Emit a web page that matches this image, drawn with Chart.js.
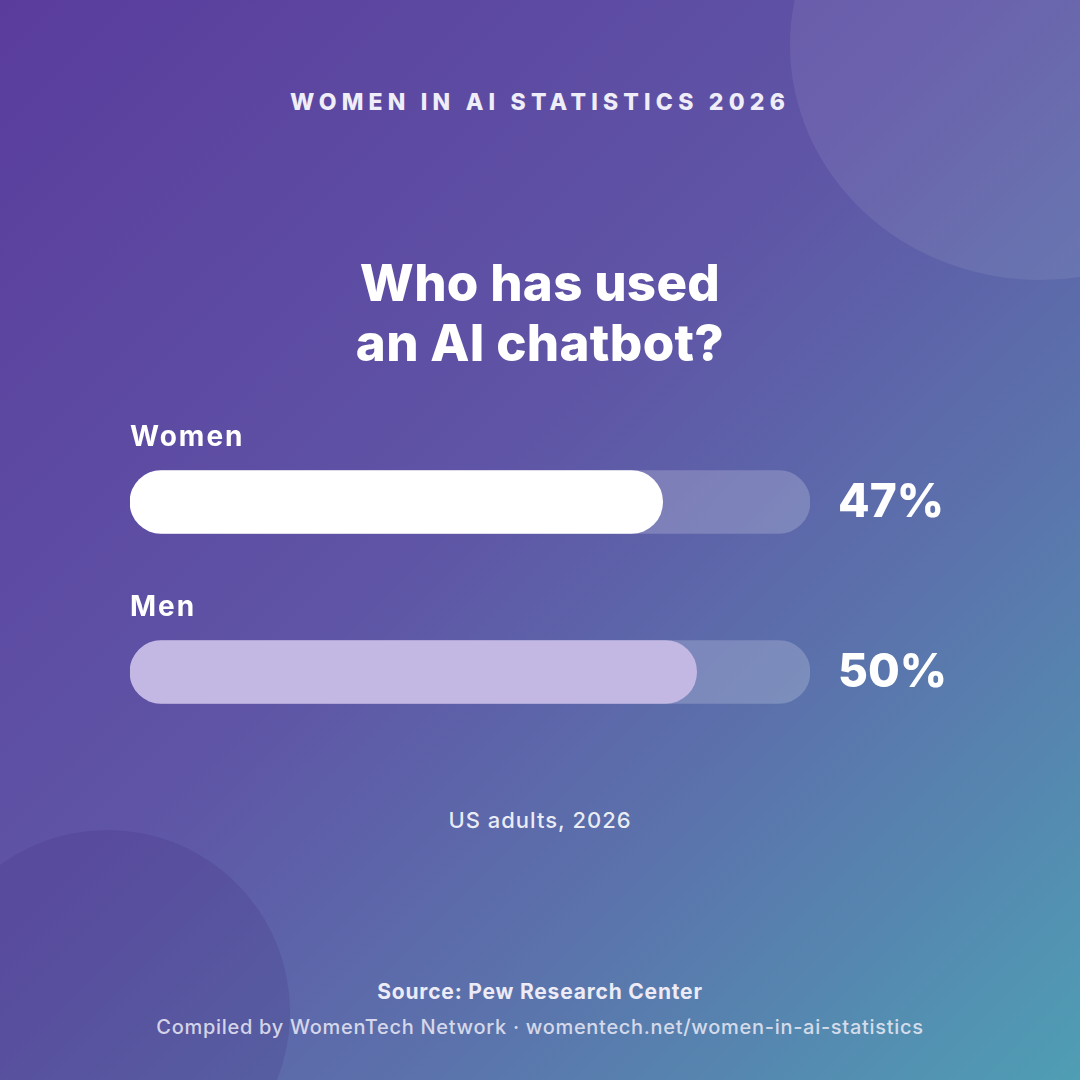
<!DOCTYPE html>
<html><head><meta charset="utf-8">
<script src="https://cdn.jsdelivr.net/npm/chart.js@4.4.1/dist/chart.umd.min.js"></script>
<style>
html,body{margin:0;padding:0;}
body{width:1080px;height:1080px;overflow:hidden;position:relative;
background:linear-gradient(135deg,#5a3c9d 0%,#5f55a6 45%,#5b73ac 70%,#4f9eb4 100%);
font-family:Inter,"Open Sans",sans-serif;color:#fff;}
.circ{position:absolute;border-radius:50%;}
.c1{left:790px;top:-190px;width:500px;height:470px;background:rgba(255,255,255,0.08);}
.c2{left:-75px;top:830px;width:365px;height:365px;background:rgba(60,40,120,0.18);}
.t{position:absolute;left:0;width:1080px;text-align:center;}
#kicker{top:88px;font-size:23px;font-weight:800;letter-spacing:5.2px;color:#efedf8;}
#title{top:253px;font-size:51px;font-weight:800;line-height:60px;letter-spacing:0.3px;}
#note{top:807px;font-size:22px;font-weight:500;letter-spacing:1px;color:rgba(255,255,255,0.88);}
#src{top:979px;font-size:21px;font-weight:700;letter-spacing:0.8px;color:#ecebf6;}
#comp{top:1015px;font-size:20px;font-weight:500;letter-spacing:0.7px;color:rgba(236,235,246,0.85);}
#wrap{position:absolute;left:0;top:400px;width:1080px;height:380px;}
</style></head>
<body>
<div class="circ c1"></div><div class="circ c2"></div>
<div class="t" id="kicker">WOMEN IN AI STATISTICS 2026</div>
<div class="t" id="title">Who has used<br>an AI chatbot?</div>
<div class="t" id="note">US adults, 2026</div>
<div class="t" id="src">Source: Pew Research Center</div>
<div class="t" id="comp">Compiled by WomenTech Network · womentech.net/women-in-ai-statistics</div>
<div id="wrap"><canvas id="c"></canvas></div>
<script>
const categories = ["Women", "Men"];
const values = [47, 50];
const valueLabels = ["47%", "50%"];
const scaleMax = 60;

const barColors = ["#ffffff", "#c3b8e3"];

const labelPlugin = {
  id: 'labels',
  afterDatasetsDraw(chart) {
    const ctx = chart.ctx;
    const meta = chart.getDatasetMeta(1);
    const area = chart.chartArea;
    ctx.save();
    meta.data.forEach((bar, i) => {
      ctx.fillStyle = '#ffffff';
      ctx.textBaseline = 'middle';
      ctx.textAlign = 'left';
      ctx.font = '700 28px Inter, "Open Sans", sans-serif';
      ctx.letterSpacing = '2px';
      ctx.fillText(categories[i], area.left, bar.y - 64);
      ctx.font = '800 46px Inter, "Open Sans", sans-serif';
      ctx.letterSpacing = '0px';
      ctx.fillText(valueLabels[i], area.right + 28, bar.y + 1);
    });
    ctx.restore();
  }
};

new Chart(document.getElementById('c'), {
  type: 'bar',
  data: {
    labels: categories,
    datasets: [
      { data: categories.map(() => scaleMax), backgroundColor: 'rgba(255,255,255,0.2)',
        borderRadius: 32, borderSkipped: false, barThickness: 63, grouped: false, order: 2 },
      { data: values, backgroundColor: barColors,
        borderRadius: 32, borderSkipped: false, barThickness: 63, grouped: false, order: 1 }
    ]
  },
  options: {
    indexAxis: 'y',
    responsive: true,
    maintainAspectRatio: false,
    animation: false,
    layout: { padding: { left: 130, right: 270, top: 17, bottom: 23 } },
    plugins: { legend: { display: false }, tooltip: { enabled: false } },
    scales: {
      x: { display: false, min: 0, max: scaleMax },
      y: { display: false, offset: true }
    }
  },
  plugins: [labelPlugin]
});
</script>
</body></html>
